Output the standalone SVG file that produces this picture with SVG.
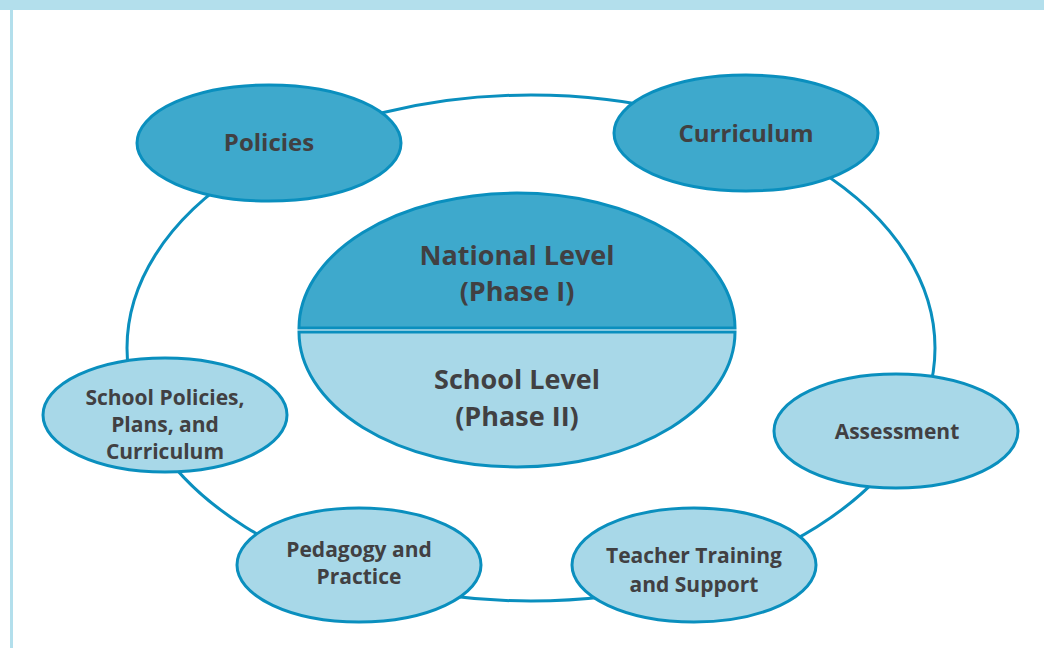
<svg xmlns="http://www.w3.org/2000/svg" width="1044" height="648" viewBox="0 0 1044 648">
<style>
.dark{fill:#3ea9cc;stroke:#0a8fbe;stroke-width:3}
.light{fill:#a8d8e8;stroke:#0a8fbe;stroke-width:3}
.ring{fill:none;stroke:#0a8fbe;stroke-width:3}
text{font-family:"Open Sans","Liberation Sans",sans-serif;font-weight:700;fill:#414042;text-anchor:middle}
.s{font-size:21px}
.m{font-size:24px}
.b{font-size:27px}
</style>
<rect x="0" y="0" width="1044" height="648" fill="#ffffff"/>
<rect x="0" y="0" width="1044" height="10" fill="#b3dfec"/>
<rect x="10" y="10" width="3" height="638" fill="#b3dfec"/>
<g id="connectors">
<ellipse class="ring" cx="531" cy="348" rx="404" ry="253"/>
</g>
<g id="central">
<path class="dark" d="M299,328 A218,135 0 0 1 735,328 Z"/>
<path class="light" d="M299,332 L735,332 A218,135 0 0 1 299,332 Z"/>
<text class="b" x="517" y="265">National Level</text>
<text class="b" x="517" y="301">(Phase I)</text>
<text class="b" x="517" y="389">School Level</text>
<text class="b" x="517" y="426">(Phase II)</text>
</g>
<g id="policies">
<ellipse class="dark" cx="269" cy="143" rx="132" ry="58"/>
<text class="m" x="269" y="151">Policies</text>
</g>
<g id="curriculum">
<ellipse class="dark" cx="746" cy="133" rx="132" ry="58"/>
<text class="m" x="746" y="142">Curriculum</text>
</g>
<g id="school-policies">
<ellipse class="light" cx="165" cy="415" rx="122" ry="57"/>
<text class="s" x="165" y="405">School Policies,</text>
<text class="s" x="165" y="432">Plans, and</text>
<text class="s" x="165" y="459">Curriculum</text>
</g>
<g id="assessment">
<ellipse class="light" cx="896" cy="431" rx="122" ry="57"/>
<text class="s" x="897" y="439">Assessment</text>
</g>
<g id="pedagogy">
<ellipse class="light" cx="359" cy="565" rx="122" ry="57"/>
<text class="s" x="359" y="557">Pedagogy and</text>
<text class="s" x="359" y="584">Practice</text>
</g>
<g id="teacher">
<ellipse class="light" cx="694" cy="565" rx="122" ry="57"/>
<text class="s" x="694" y="563">Teacher Training</text>
<text class="s" x="694" y="592">and Support</text>
</g>
</svg>
